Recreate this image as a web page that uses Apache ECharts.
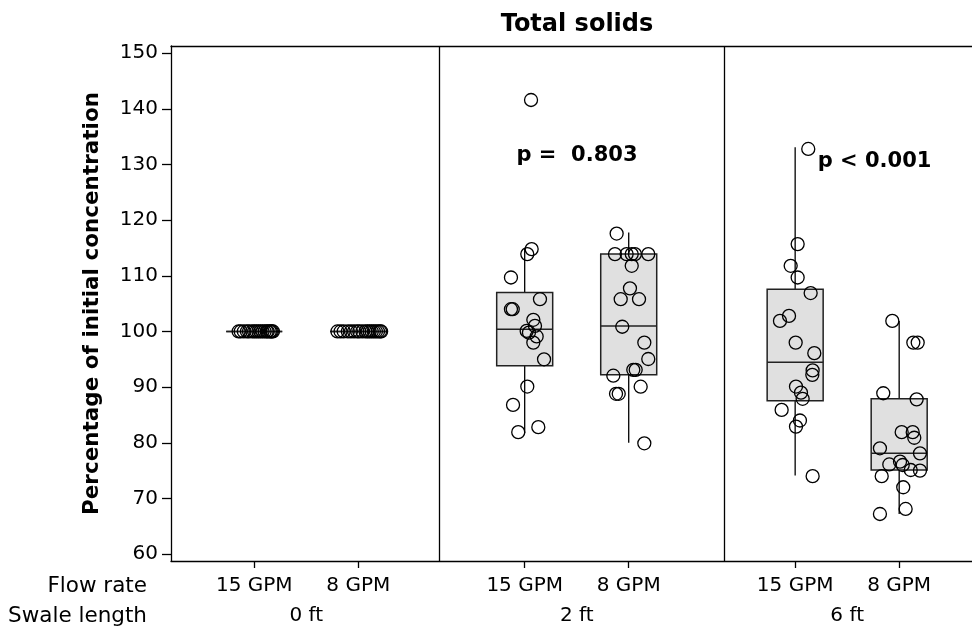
<!DOCTYPE html>
<html>
<head>
<meta charset="utf-8">
<script src="https://cdn.jsdelivr.net/npm/echarts@6/dist/echarts.min.js"></script>
<style>
  html, body { margin: 0; padding: 0; background: #fff; }
  #chart { width: 972px; height: 632px; }
</style>
</head>
<body>
<div id="chart"></div>
<script>
// ---------- DATA ----------
var flowRates = ['15 GPM', '8 GPM', '15 GPM', '8 GPM', '15 GPM', '8 GPM'];
var groupPositions = [1, 2, 3.6, 4.6, 6.2, 7.2];
var swaleLengths = ['0 ft', '2 ft', '6 ft'];
var yTicks = [60, 70, 80, 90, 100, 110, 120, 130, 140, 150];

// box stats: [min, Q1, median, Q3, max]
var boxStats = [
  [100, 100, 100, 100, 100],
  [100, 100, 100, 100, 100],
  [81.7, 93.85, 100.4, 107.0, 115.0],
  [80.0, 92.2, 101.0, 113.9, 117.8],
  [74.1, 87.55, 94.45, 107.6, 133.1],
  [67.2, 75.1, 78.1, 87.9, 101.9]
];

// individual observations [x (jittered axis position), value]
var pts0ft15 = [[0.85,100],[0.87,100],[0.90,100],[0.93,100],[0.95,100],[0.98,100],[1.00,100],[1.02,100],[1.04,100],[1.06,100],[1.08,100],[1.10,100],[1.12,100],[1.13,100],[1.15,100],[1.16,100],[1.17,100],[1.18,100]];
var pts0ft8 = [[1.80,100],[1.83,100],[1.86,100],[1.90,100],[1.93,100],[1.96,100],[1.99,100],[2.01,100],[2.04,100],[2.07,100],[2.09,100],[2.11,100],[2.13,100],[2.15,100],[2.17,100],[2.19,100],[2.21,100],[2.22,100]];
var pts2ft15 = [[3.661,141.6],[3.667,114.8],[3.625,113.9],[3.468,109.7],[3.747,105.8],[3.468,104.0],[3.485,104.0],[3.683,102.1],[3.699,101.0],[3.619,100.1],[3.641,99.8],[3.715,99.1],[3.683,98.0],[3.786,95.0],[3.625,90.1],[3.488,86.8],[3.538,81.9],[3.731,82.8]];
var pts2ft8 = [[4.484,117.6],[4.468,113.9],[4.580,113.9],[4.629,113.9],[4.660,113.9],[4.788,113.9],[4.629,111.8],[4.612,107.75],[4.523,105.8],[4.699,105.8],[4.538,100.85],[4.750,98.0],[4.788,95.05],[4.644,93.1],[4.667,93.1],[4.452,92.05],[4.715,90.07],[4.478,88.8],[4.504,88.8],[4.750,79.9]];
var pts6ft15 = [[6.326,132.8],[6.224,115.7],[6.157,111.8],[6.224,109.7],[6.349,106.9],[6.141,102.8],[6.054,101.9],[6.205,98.0],[6.384,96.1],[6.368,93.0],[6.365,92.2],[6.208,90.1],[6.256,89.0],[6.272,87.9],[6.070,85.9],[6.246,84.0],[6.208,82.9],[6.368,74.0]];
var pts6ft8 = [[7.134,101.9],[7.336,98.0],[7.378,98.0],[7.047,88.9],[7.368,87.8],[7.224,81.9],[7.330,81.9],[7.345,80.9],[7.015,79.0],[7.400,78.1],[7.105,76.1],[7.208,76.6],[7.234,76.0],[7.311,75.1],[7.400,75.0],[7.032,74.0],[7.239,72.0],[7.262,68.1],[7.015,67.2]];

var pLabels = ['p =  0.803', 'p < 0.001'];
var pLabelPos = [[4.103, 131.7], [6.963, 130.5]];

// ---------- BUILD ----------
var FONT = 'DejaVu Sans';
var X_MIN = 0.2, X_MAX = 7.9;
var Y_MIN = 58.75, Y_MAX = 151.3;
var dividers = [2.776, 5.516];

var panelCenters = [];
for (var i = 0; i < swaleLengths.length; i++) {
  panelCenters.push((groupPositions[2 * i] + groupPositions[2 * i + 1]) / 2);
}
function lookup(v, positions, labels) {
  for (var i = 0; i < positions.length; i++) {
    if (Math.abs(positions[i] - v) < 0.01) return labels[i];
  }
  return '';
}

var boxData = boxStats.map(function (s, i) {
  return [groupPositions[i]].concat(s);
});

var allPoints = [].concat(pts0ft15, pts0ft8, pts2ft15, pts2ft8, pts6ft15, pts6ft8);

var chart = echarts.init(document.getElementById('chart'), null, { renderer: 'canvas' });

var option = {
  animation: false,
  backgroundColor: '#fff',
  title: {
    text: 'Total solids',
    left: 572,
    textAlign: 'center',
    top: 8,
    textStyle: { fontFamily: FONT, fontSize: 24, fontWeight: 'bold', color: '#000' }
  },
  grid: { left: 171, top: 46, width: 801, height: 515, containLabel: false },
  xAxis: [
    {
      type: 'value', position: 'bottom', min: X_MIN, max: X_MAX,
      splitLine: { show: false },
      axisLine: { show: true, lineStyle: { color: '#000', width: 1.3 } },
      axisTick: { show: true, customValues: groupPositions, length: 7, inside: false, lineStyle: { color: '#000', width: 1.3 } },
      axisLabel: {
        show: true, customValues: groupPositions, margin: 15,
        fontFamily: FONT, fontSize: 20, color: '#000',
        formatter: function (v) { return lookup(v, groupPositions, flowRates); }
      }
    },
    {
      type: 'value', position: 'top', min: X_MIN, max: X_MAX,
      splitLine: { show: false },
      axisLine: { show: true, lineStyle: { color: '#000', width: 1.3 } },
      axisTick: { show: false }, axisLabel: { show: false }
    },
    {
      type: 'value', position: 'bottom', offset: 31, min: X_MIN, max: X_MAX,
      splitLine: { show: false },
      axisLine: { show: false }, axisTick: { show: false },
      axisLabel: {
        show: true, customValues: panelCenters, margin: 14,
        fontFamily: FONT, fontSize: 20, color: '#000',
        formatter: function (v) { return lookup(v, panelCenters, swaleLengths); }
      }
    }
  ],
  yAxis: {
    type: 'value', min: Y_MIN, max: Y_MAX,
    name: 'Percentage of initial concentration',
    nameLocation: 'middle', nameGap: 68, nameRotate: 90,
    nameTextStyle: { fontFamily: FONT, fontSize: 21.5, fontWeight: 'bold', color: '#000' },
    splitLine: { show: false },
    axisLine: { show: true, lineStyle: { color: '#000', width: 1.3 } },
    axisTick: { show: true, customValues: yTicks, length: 9, lineStyle: { color: '#000', width: 1.3 } },
    axisLabel: { show: true, customValues: yTicks, margin: 13, fontFamily: FONT, fontSize: 20, color: '#000' }
  },
  graphic: [
    { type: 'text', style: { text: 'Flow rate', x: 147, y: 586, textAlign: 'right', textVerticalAlign: 'middle', font: '21.5px "DejaVu Sans"', fill: '#000' } },
    { type: 'text', style: { text: 'Swale length', x: 147, y: 616, textAlign: 'right', textVerticalAlign: 'middle', font: '21.5px "DejaVu Sans"', fill: '#000' } }
  ],
  series: [
    {
      type: 'custom',
      xAxisIndex: 0,
      z: 2,
      silent: true,
      encode: { x: 0, y: [1, 2, 3, 4, 5] },
      data: boxData,
      renderItem: function (params, api) {
        var x = api.value(0);
        var pMin = api.coord([x, api.value(1)]);
        var pQ1 = api.coord([x, api.value(2)]);
        var pMed = api.coord([x, api.value(3)]);
        var pQ3 = api.coord([x, api.value(4)]);
        var pMax = api.coord([x, api.value(5)]);
        var cx = pMed[0];
        var hw = 28;
        var lineStyle = { stroke: '#000', lineWidth: 1.3 };
        return {
          type: 'group',
          children: [
            { type: 'line', shape: { x1: cx, y1: pMax[1], x2: cx, y2: pQ3[1] }, style: lineStyle },
            { type: 'line', shape: { x1: cx, y1: pQ1[1], x2: cx, y2: pMin[1] }, style: lineStyle },
            { type: 'rect', shape: { x: cx - hw, y: pQ3[1], width: 2 * hw, height: pQ1[1] - pQ3[1] },
              style: { fill: '#e0e0e0', stroke: '#222', lineWidth: 1.5 } },
            { type: 'line', shape: { x1: cx - hw, y1: pMed[1], x2: cx + hw, y2: pMed[1] }, style: { stroke: '#222', lineWidth: 1.5 } }
          ]
        };
      },
      markLine: {
        silent: true,
        symbol: ['none', 'none'],
        label: { show: false },
        lineStyle: { color: '#000', width: 1.3, type: 'solid' },
        data: dividers.map(function (d) { return { xAxis: d }; })
      }
    },
    {
      type: 'scatter',
      xAxisIndex: 0,
      z: 3,
      silent: true,
      symbol: 'circle',
      symbolSize: 13,
      itemStyle: { color: 'rgba(0,0,0,0)', borderColor: '#000', borderWidth: 1.3, opacity: 1 },
      data: allPoints
    },
    {
      type: 'custom',
      xAxisIndex: 0,
      z: 4,
      silent: true,
      encode: { x: 0, y: 1 },
      data: pLabelPos.map(function (p, i) { return [p[0], p[1], i]; }),
      renderItem: function (params, api) {
        var pt = api.coord([api.value(0), api.value(1)]);
        return {
          type: 'text',
          x: pt[0], y: pt[1],
          style: {
            text: pLabels[api.value(2)],
            textAlign: 'center', textVerticalAlign: 'middle',
            font: 'bold 21px "DejaVu Sans"', fill: '#000'
          }
        };
      }
    }
  ]
};

chart.setOption(option);
</script>
</body>
</html>
